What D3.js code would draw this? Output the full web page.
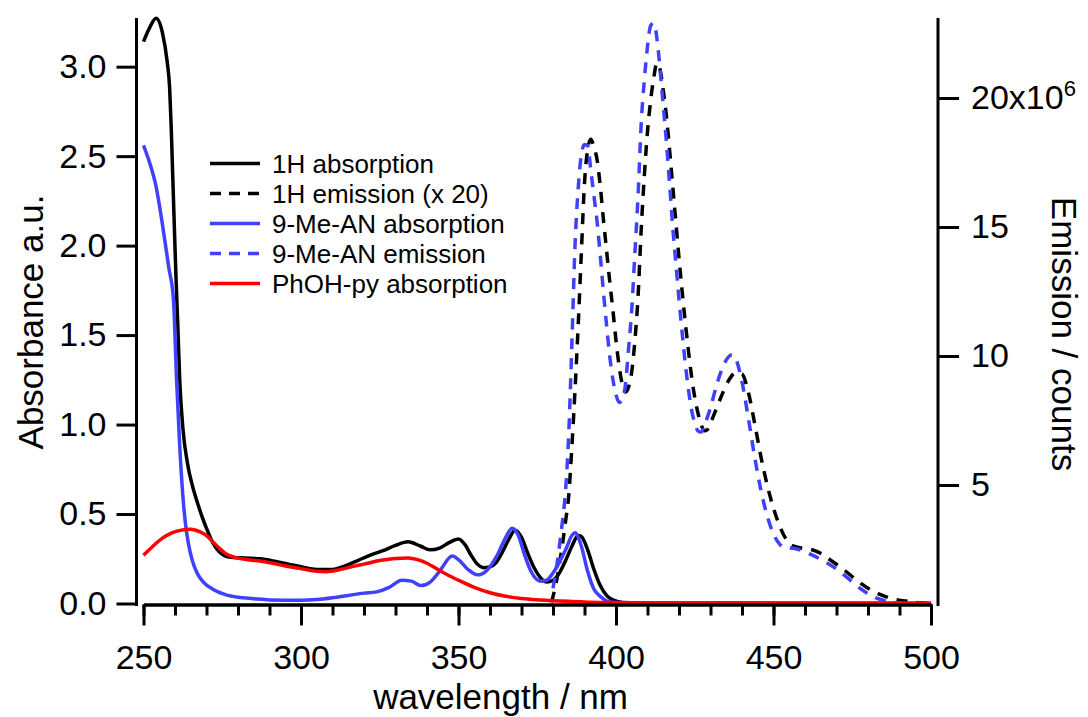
<!DOCTYPE html>
<html>
<head>
<meta charset="utf-8">
<script src="https://cdn.jsdelivr.net/npm/d3@7"></script>
<style>
  body { margin: 0; background: #fff; }
  text { font-family: "Liberation Sans", Arial, sans-serif; fill: #000; }
</style>
</head>
<body>
<svg id="chart" width="1088" height="717"></svg>
<script>
// data (wavelength nm, value)
var abs1H = [[250,3.14],[252,3.22],[254,3.27],[256,3.19],[257.5,3.03],[258.3,2.88],[258.8,2.66],[259.3,2.38],[259.8,2.10],[260.3,1.83],[260.9,1.55],[261.5,1.25],[262.5,0.98],[264,0.78],[265.5,0.66],[267,0.57],[268.5,0.49],[270,0.42],[272,0.34],[274,0.29],[277,0.26],[282,0.254],[287,0.25],[292,0.235],[296,0.22],[300,0.205],[305,0.19],[310,0.19],[314,0.21],[318,0.24],[322,0.27],[326,0.295],[330,0.325],[334,0.345],[338,0.32],[341,0.30],[344,0.31],[347,0.34],[350,0.36],[352,0.33],[354,0.27],[356,0.22],[358,0.2],[360,0.205],[362,0.23],[364,0.29],[366,0.36],[368,0.41],[370,0.37],[372,0.28],[374,0.2],[376,0.145],[378,0.12],[380,0.13],[382,0.17],[384,0.24],[386,0.32],[388,0.38],[389,0.375],[391,0.30],[393,0.19],[395,0.10],[397,0.045],[399,0.02],[402,0.006],[410,0.002],[500,0]];

var em1H = [[379.5,0.45],[381,1.2],[382,1.9],[383,2.7],[384,3.6],[385,4.6],[386,6.5],[387,8.7],[388,11.2],[389,14.0],[390,16.7],[391,18.0],[392,18.4],[393,18.1],[394,17.6],[395,16.6],[396,15.3],[397,14.1],[398,12.9],[399,11.8],[400,10.6],[401,9.6],[402,8.9],[403,8.6],[404,8.8],[405,9.4],[406,10.6],[407,12.3],[408,14.9],[409,17.0],[410,18.7],[411,19.9],[412,20.8],[413,21.35],[414,21.1],[415,20.3],[416,19.3],[417,18.0],[418,16.6],[419,15.2],[420,13.8],[421,12.5],[422,11.3],[423,10.2],[424,9.2],[425,8.4],[426,7.8],[427,7.35],[428,7.1],[429,7.15],[430,7.4],[432,8.0],[434,8.6],[436,9.1],[438,9.35],[440,9.3],[442,8.6],[444,7.4],[446,6.1],[448,5.0],[450,4.1],[452,3.4],[454,2.9],[456,2.65],[459,2.55],[462,2.5],[465,2.35],[468,2.1],[472,1.75],[476,1.35],[480,1.0],[484,0.75],[488,0.58],[492,0.5],[496,0.44],[500,0.41]];

var absMeAN = [[250,2.56],[252,2.46],[254,2.33],[256,2.12],[258,1.88],[259.5,1.70],[260.5,1.25],[261.5,0.88],[262.5,0.6],[263.3,0.45],[264.2,0.34],[265.5,0.24],[267,0.17],[269,0.12],[272,0.08],[276,0.05],[280,0.035],[285,0.027],[290,0.02],[300,0.018],[305,0.022],[310,0.032],[315,0.045],[320,0.058],[324,0.065],[328,0.09],[332,0.13],[335,0.125],[338,0.10],[341,0.12],[344,0.18],[348,0.265],[350,0.245],[353,0.19],[356,0.16],[359,0.185],[362,0.26],[365,0.37],[367,0.42],[369,0.38],[371,0.27],[373,0.18],[376,0.125],[378,0.13],[380,0.17],[382,0.23],[384,0.30],[386,0.38],[387,0.395],[389,0.32],[391,0.18],[393,0.08],[395,0.04],[397,0.015],[400,0.005],[410,0.001],[500,0]];

var emMeAN = [[380,1.0],[381,1.7],[382,2.6],[383,3.6],[384,4.8],[385,7.0],[386,10.5],[387,14.3],[388,16.5],[389,17.8],[390,18.2],[391,18.15],[392,17.2],[393,16.2],[394,15.2],[395,13.9],[396,12.5],[397,11.2],[398,10.0],[399,9.1],[400,8.5],[401,8.2],[402,8.3],[403,8.9],[404,10.3],[405,11.8],[406,14.0],[407,16.2],[408,19.0],[409,20.7],[410,22.0],[411,22.8],[412,22.9],[413,22.3],[414,21.1],[415,19.7],[416,18.3],[417,16.7],[418,15.0],[419,13.6],[420,12.2],[421,10.9],[422,9.7],[423,8.7],[424,7.9],[425,7.4],[426,7.1],[427,7.05],[428,7.3],[430,8.0],[432,8.9],[434,9.6],[436,10.0],[437,10.05],[438,9.9],[440,9.0],[442,7.6],[444,6.1],[446,4.8],[448,3.8],[450,3.1],[452,2.7],[454,2.55],[456,2.55],[458,2.5],[462,2.3],[466,2.05],[470,1.75],[474,1.35],[478,0.95],[482,0.65],[486,0.5],[490,0.43],[495,0.41],[500,0.40]];

var absPhOH = [[250,0.27],[253,0.32],[256,0.365],[259,0.395],[262,0.41],[265,0.415],[268,0.40],[270,0.38],[272,0.345],[274,0.31],[276,0.28],[279,0.258],[283,0.245],[287,0.237],[291,0.225],[295,0.21],[300,0.195],[305,0.18],[308,0.178],[312,0.188],[316,0.205],[320,0.22],[325,0.24],[330,0.252],[334,0.254],[337,0.245],[340,0.225],[343,0.195],[346,0.165],[350,0.13],[355,0.09],[360,0.06],[365,0.04],[370,0.028],[376,0.02],[385,0.012],[395,0.006],[420,0.003],[500,0.002]];

var legendLabels = ["1H absorption", "1H emission (x 20)", "9-Me-AN absorption", "9-Me-AN emission", "PhOH-py absorption"];
var xMajorTicks = [250, 300, 350, 400, 450, 500];
var xMinorTicks = d3.range(250, 501, 10);
var leftTicks = [0, 0.5, 1.0, 1.5, 2.0, 2.5, 3.0];
var rightTicks = [5, 10, 15, 20];

var svg = d3.select("#chart");

// scales
var x = d3.scaleLinear().domain([250, 500]).range([143.5, 931]);
var yL = d3.scaleLinear().domain([0, 3.272]).range([603.5, 18]);
var yR = d3.scaleLinear().domain([0.407, 23.1]).range([603.5, 18]); // x10^6 counts

var blue = "#4040ff";
var series = [
  { data: abs1H,  y: yL, color: "#000", dash: null },
  { data: em1H,   y: yR, color: "#000", dash: "11,9" },
  { data: absMeAN, y: yL, color: blue, dash: null },
  { data: emMeAN, y: yR, color: blue, dash: "11,9" },
  { data: absPhOH, y: yL, color: "#ff0000", dash: null }
];

// lines
var lines = svg.append("g").attr("class", "lines");
series.forEach(function(s) {
  var line = d3.line()
    .curve(d3.curveMonotoneX)
    .x(function(d) { return x(d[0]); })
    .y(function(d) { return s.y(d[1]); });
  lines.append("path")
    .datum(s.data)
    .attr("d", line)
    .attr("fill", "none")
    .attr("stroke", s.color)
    .attr("stroke-width", 3.5)
    .attr("stroke-dasharray", s.dash);
});

// axes
function styleAxis(g) {
  g.selectAll(".domain").attr("stroke", "#000").attr("stroke-width", 3);
  g.selectAll(".tick line").attr("stroke", "#000").attr("stroke-width", 3);
  g.selectAll(".tick text").style("font-size", "34px").attr("font-family", null);
}

svg.append("g")
  .attr("transform", "translate(0,604.5)")
  .call(d3.axisBottom(x).tickValues(xMinorTicks).tickSize(11).tickSizeOuter(0).tickFormat(""))
  .call(styleAxis);

svg.append("g")
  .attr("transform", "translate(0,604.5)")
  .call(d3.axisBottom(x).tickValues(xMajorTicks).tickSize(21).tickSizeOuter(0).tickPadding(19).tickFormat(d3.format("d")))
  .call(styleAxis);

svg.append("g")
  .attr("transform", "translate(136.5,0)")
  .call(d3.axisLeft(yL).tickValues(leftTicks).tickSize(20).tickSizeOuter(0).tickPadding(10).tickFormat(d3.format(".1f")))
  .call(styleAxis)
  .call(function(g) { g.select(".domain").attr("d", "M0,18V606"); });

var rAxis = svg.append("g")
  .attr("transform", "translate(938,0)")
  .call(d3.axisRight(yR).tickValues(rightTicks).tickSize(21).tickSizeOuter(0).tickPadding(12).tickFormat(function(d) { return d == 20 ? "20x10" : d; }))
  .call(styleAxis)
  .call(function(g) { g.select(".domain").attr("d", "M0,18V606"); });

rAxis.selectAll(".tick text")
  .filter(function(d) { return d == 20; })
  .append("tspan")
  .attr("dy", "-0.62em")
  .style("font-size", "22px")
  .text("6");

// axis titles
svg.append("text")
  .attr("transform", "translate(43,322) rotate(-90)")
  .attr("text-anchor", "middle")
  .style("font-size", "35px")
  .text("Absorbance a.u.");

svg.append("text")
  .attr("transform", "translate(1052,334) rotate(90)")
  .attr("text-anchor", "middle")
  .style("font-size", "35px")
  .text("Emission / counts");

svg.append("text")
  .attr("x", 628)
  .attr("y", 709)
  .attr("text-anchor", "end")
  .style("font-size", "35px")
  .text("wavelength / nm");

// legend
var legend = svg.append("g").attr("class", "legend");
var rowY = d3.scaleLinear().domain([0, 4]).range([163.5, 283.5]);
legendLabels.forEach(function(label, i) {
  var s = series[i];
  legend.append("line")
    .attr("x1", 210).attr("x2", 260)
    .attr("y1", rowY(i)).attr("y2", rowY(i))
    .attr("stroke", s.color)
    .attr("stroke-width", 3.5)
    .attr("stroke-dasharray", s.dash ? "11,8" : null);
  legend.append("text")
    .attr("x", 272)
    .attr("y", rowY(i))
    .attr("dy", "0.36em")
    .style("font-size", "26px")
    .text(label);
});
</script>
</body>
</html>
